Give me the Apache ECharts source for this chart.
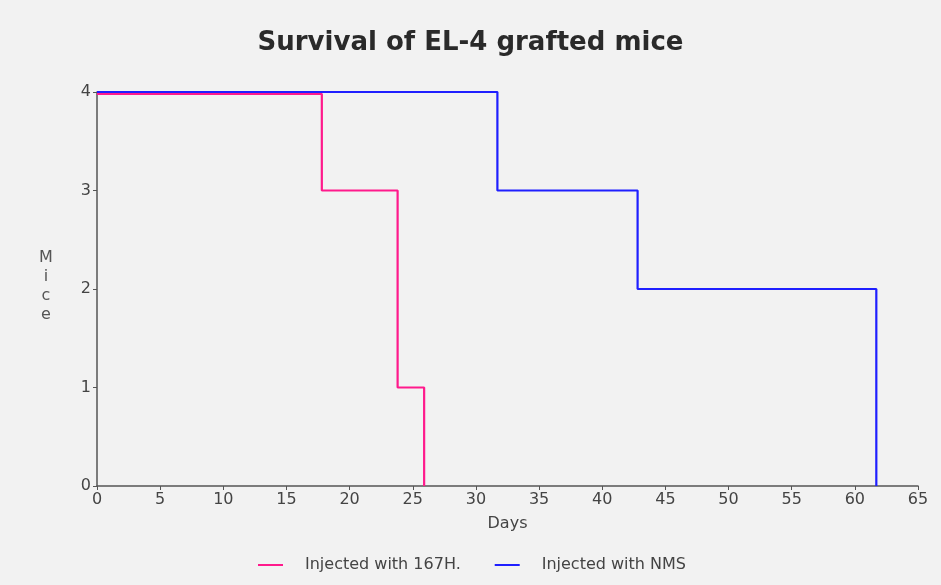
<!DOCTYPE html>
<html>
<head>
<meta charset="utf-8">
<script src="https://cdn.jsdelivr.net/npm/echarts@6/dist/echarts.min.js"></script>
<style>
html,body{margin:0;padding:0;background:#f2f2f2;}
#chart{width:941px;height:585px;}
</style>
</head>
<body>
<div id="chart"></div>
<script>
// Data
const titleText = 'Survival of EL-4 grafted mice';
const seriesNames = ['Injected with 167H.', 'Injected with NMS'];
// [day, mice] change points (step after each day)
const days167H = [0, 17.8, 23.8, 25.9];
const mice167H = [3.98, 3, 1, 0];
const daysNMS = [0, 31.7, 42.8, 61.7];
const miceNMS = [4, 3, 2, 0];
const xTicks = [0, 5, 10, 15, 20, 25, 30, 35, 40, 45, 50, 55, 60, 65];
const yTicks = [0, 1, 2, 3, 4];

const pink = '#ff1a8c';
const blue = '#1f1fff';
const fontFam = '"DejaVu Sans", "Liberation Sans", sans-serif';

function pairs(xs, ys) { return xs.map((x, i) => [x, ys[i]]); }

const chart = echarts.init(document.getElementById('chart'));
chart.setOption({
  backgroundColor: '#f2f2f2',
  animation: false,
  title: {
    text: titleText,
    left: 'center',
    top: 25,
    textStyle: { fontFamily: fontFam, fontWeight: 'bold', fontSize: 26, color: '#2a2a2a' }
  },
  grid: { left: 97, right: 23, top: 92, bottom: 99 },
  legend: {
    data: seriesNames,
    left: 253,
    top: 552,
    icon: 'rect',
    itemWidth: 25,
    itemHeight: 2,
    itemGap: 34,
    textStyle: { fontFamily: fontFam, fontSize: 16, color: '#444', padding: [0, 0, 0, 17] }
  },
  xAxis: {
    type: 'value',
    min: xTicks[0],
    max: xTicks[xTicks.length - 1],
    interval: 5,
    name: 'Days',
    nameLocation: 'middle',
    nameGap: 30,
    nameTextStyle: { fontFamily: fontFam, fontSize: 16, color: '#444' },
    axisLine: { lineStyle: { color: '#555', width: 1.5 } },
    axisTick: { show: true, length: 4, lineStyle: { color: '#555' } },
    axisLabel: { fontFamily: fontFam, fontSize: 16, color: '#444', margin: 6 },
    splitLine: { show: false }
  },
  yAxis: {
    type: 'value',
    min: yTicks[0],
    max: yTicks[yTicks.length - 1],
    interval: 1,
    axisLine: { show: true, lineStyle: { color: '#555', width: 1.5 } },
    axisTick: { show: true, length: 4, lineStyle: { color: '#555' } },
    axisLabel: { fontFamily: fontFam, fontSize: 16, color: '#444', margin: 6 },
    splitLine: { show: false }
  },
  graphic: [{
    type: 'text',
    left: 39,
    top: 248,
    style: {
      text: 'M\ni\nc\ne',
      fontFamily: fontFam,
      fontSize: 16,
      lineHeight: 19,
      fill: '#555',
      textAlign: 'center'
    }
  }],
  series: [
    {
      name: seriesNames[0],
      type: 'line',
      step: 'end',
      showSymbol: false,
      data: pairs(days167H, mice167H),
      lineStyle: { color: pink, width: 2.2 },
      itemStyle: { color: pink },
      z: 2
    },
    {
      name: seriesNames[1],
      type: 'line',
      step: 'end',
      showSymbol: false,
      data: pairs(daysNMS, miceNMS),
      lineStyle: { color: blue, width: 2.2 },
      itemStyle: { color: blue },
      z: 3
    }
  ]
});
</script>
</body>
</html>
